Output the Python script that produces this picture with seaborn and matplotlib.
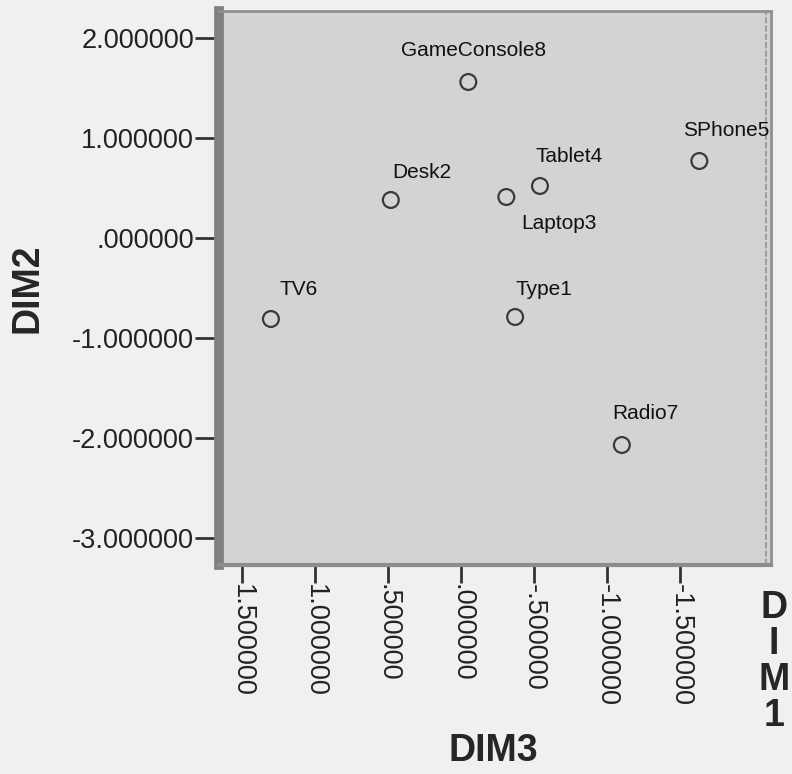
import matplotlib
matplotlib.use("Agg")
import matplotlib.pyplot as plt
import seaborn as sns
import pandas as pd

# MDS coordinates
labels = ["GameConsole8", "SPhone5", "Tablet4", "Desk2", "Laptop3", "TV6", "Type1", "Radio7"]
dim3 = [-0.05, -1.63, -0.54, 0.48, -0.31, 1.30, -0.37, -1.10]
dim2 = [1.56, 0.77, 0.52, 0.38, 0.41, -0.81, -0.79, -2.07]

yticks = [2, 1, 0, -1, -2, -3]
xticks = [1.5, 1.0, 0.5, 0.0, -0.5, -1.0, -1.5]

df = pd.DataFrame({"label": labels, "DIM3": dim3, "DIM2": dim2})

# label placement (offset in points from each point)
offsets = {"GameConsole8": (4, 23), "SPhone5": (19, 22), "Tablet4": (21, 21),
           "Desk2": (22, 20), "Laptop3": (38, -19), "TV6": (20, 21),
           "Type1": (21, 20), "Radio7": (17, 23)}


def spss_fmt(v):
    s = f"{v:.6f}"
    s = s.replace("-0.", "-.")
    if s.startswith("0."):
        s = s[1:]
    return s


sns.set_style("white")
plt.rcParams["font.family"] = ["Liberation Sans", "DejaVu Sans"]

fig = plt.figure(figsize=(7.92, 7.74), dpi=100)
fig.patch.set_facecolor("#f0f0f0")
ax = fig.add_axes([219 / 792, 1 - 565 / 774, (771 - 219) / 792, (565 - 11) / 774])
ax.set_facecolor("#d3d3d3")

sns.scatterplot(data=df, x="DIM3", y="DIM2", ax=ax, s=130, marker="o",
                facecolors="none", edgecolor="#3a3a3a", linewidth=1.6, legend=False)

for lab, x, y in zip(labels, dim3, dim2):
    ax.annotate(lab, (x, y), xytext=offsets[lab], textcoords="offset points",
                ha="center", va="center", fontsize=15, color="#111111")

ax.set_xlim(1.655, -2.12)
ax.set_ylim(-3.27, 2.27)
ax.set_yticks(yticks)
ax.set_yticklabels([spss_fmt(v) for v in yticks], fontsize=19.5, color="#222222")
ax.set_xticks(xticks)
ax.set_xticklabels([spss_fmt(v) for v in xticks], fontsize=19.5, color="#222222",
                   rotation=-90, va="top")
ax.tick_params(axis="both", bottom=True, left=True, direction="out", width=2,
               color="#333333", pad=1)
ax.tick_params(axis="y", length=17)
ax.tick_params(axis="x", length=13)

ax.spines["left"].set_color("#808080")
ax.spines["left"].set_linewidth(7)
ax.spines["bottom"].set_color("#8c8c8c")
ax.spines["bottom"].set_linewidth(3)
ax.spines["top"].set_color("#909090")
ax.spines["top"].set_linewidth(2)
ax.spines["top"].set_linestyle((0, (3, 1)))
ax.spines["right"].set_color("#909090")
ax.spines["right"].set_linewidth(2)
ax.spines["right"].set_linestyle((0, (3, 1)))
ax.plot([0.991, 0.991], [0, 1], transform=ax.transAxes, color="#a0a0a0",
        lw=1.5, ls=(0, (3, 1)), clip_on=False)

ax.set_xlabel("DIM3", fontsize=27, fontweight="bold")
ax.set_ylabel("DIM2", fontsize=27, fontweight="bold")
ax.xaxis.set_label_coords((493 - 219) / 552, (565 - 751) / 554)
ax.xaxis.label.set_va("center")
ax.yaxis.set_label_coords((28 - 219) / 552, (565 - 288) / 554)
ax.yaxis.label.set_va("center")
fig.text(774 / 792, 1 - 662 / 774, "D\nI\nM\n1", fontsize=27, fontweight="bold",
         ha="center", va="center", linespacing=1.0)

fig.savefig("out.png", dpi=100, facecolor=fig.get_facecolor())
